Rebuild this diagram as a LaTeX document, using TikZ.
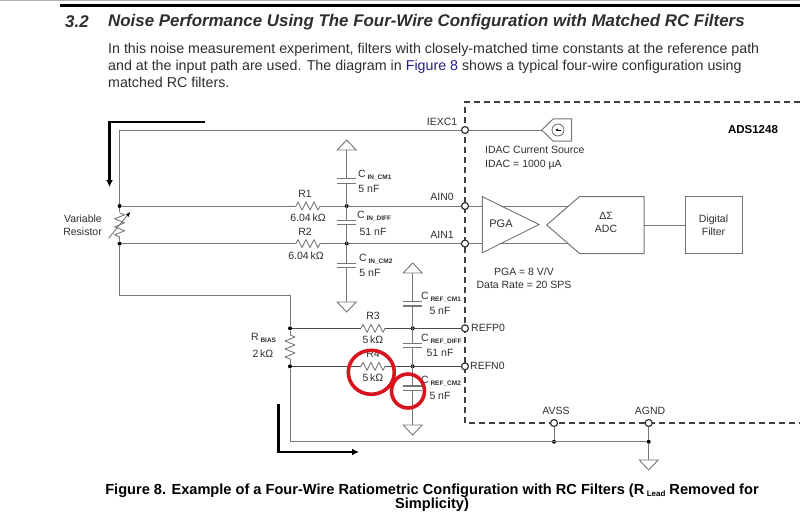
\documentclass[tikz,border=0pt]{standalone}
\usepackage{fontspec}
\setmainfont{Liberation Sans}
\usepackage{xcolor}
\usepackage{tikz}
\usetikzlibrary{arrows.meta}

\definecolor{wiregray}{HTML}{777777}
\definecolor{txtgray}{HTML}{2E2E2E}
\definecolor{linkblue}{HTML}{20208A}
\definecolor{markred}{HTML}{D8141E}

\newcommand{\capname}[1]{C\,\raisebox{-1.5pt}{\fontsize{6.5}{7}\selectfont\bfseries #1}}

\tikzset{
    wire/.style={draw=wiregray, line width=0.9pt},
    darkwire/.style={draw=black!70, line width=0.8pt},
    lbl/.style={inner sep=0pt, text=txtgray, font=\fontsize{10.5}{13}\selectfont},
    pin/.style={circle, draw=black!80, fill=white, line width=1.2pt, minimum size=7pt, inner sep=0pt},
    dot/.style={circle, fill=black, minimum size=4pt, inner sep=0pt},
    block/.style={draw=wiregray, line width=1pt, fill=white},
    thickarrow/.style={draw=black, line width=2.4pt, -{Latex[length=7pt,width=7pt]}},
    redmark/.style={draw=markred, line width=3.6pt},
    gnddown/.pic={\draw[wire, fill=white] (-9.5,0) -- (9.5,0) -- (0,10) -- cycle;},
    gndup/.pic={\draw[wire, fill=white] (-9.5,0) -- (9.5,0) -- (0,-10) -- cycle;},
    capplates/.pic={\draw[wire, line width=1.1pt] (-9.5,-2.3) -- (9.5,-2.3) (-9.5,2.3) -- (9.5,2.3);},
    resh/.pic={\draw[wire, line join=round] (-12,0) -- (-10,-4) -- (-6,4) -- (-2,-4) -- (2,4) -- (6,-4) -- (10,4) -- (12,0);},
    resv/.pic={\draw[wire, line join=round] (0,-12) -- (5,-10) -- (-5,-6) -- (5,-2) -- (-5,2) -- (5,6) -- (-5,10) -- (0,12);},
}

\begin{document}
\begin{tikzpicture}[x=1pt, y=-1pt]
    \useasboundingbox (0,0) rectangle (800,516);

    % page text
    \draw[black!30, line width=1pt] (0,0.5) -- (800,0.5);
    \draw[black, line width=2.2pt] (60,5.5) -- (800,5.5);
    \node[lbl, anchor=west, font=\fontsize{16.9}{19}\selectfont\bfseries\itshape] (secnum) at (65,22) {3.2};
    \node[lbl, anchor=west, font=\fontsize{16.9}{19}\selectfont\bfseries\itshape] (sectitle) at (108,22) {Noise Performance Using The Four-Wire Configuration with Matched RC Filters};
    \node[lbl, anchor=north west, align=left, font=\fontsize{14.25}{17}\selectfont] (para) at (108,42.5) {In this noise measurement experiment, filters with closely-matched time constants at the reference path\\ and at the input path are used. The diagram in \textcolor{linkblue}{Figure 8} shows a typical four-wire configuration using\\ matched RC filters.};
    \node[lbl, anchor=north, align=center, text=black, font=\fontsize{14.6}{14}\selectfont\bfseries] (figcaption) at (432,483.5) {Figure 8. Example of a Four-Wire Ratiometric Configuration with RC Filters (R\,\raisebox{-2pt}{\fontsize{8}{8}\selectfont Lead} Removed for\\ Simplicity)};

    % named points of the circuit
    \coordinate (topleft) at (119.6,130);
    \coordinate (vrtop) at (119.6,212);
    \coordinate (vrbot) at (119.6,237);
    \coordinate (lowleft) at (119.6,295);
    \coordinate (rbcorner) at (290,295);
    \coordinate (botcorner) at (290,441.7);
    \coordinate (r1l) at (296,206);
    \coordinate (r1r) at (320,206);
    \coordinate (r2l) at (296,243.6);
    \coordinate (r2r) at (320,243.6);
    \coordinate (r3l) at (361,328.3);
    \coordinate (r3r) at (385,328.3);
    \coordinate (r4l) at (361,366.3);
    \coordinate (r4r) at (385,366.3);
    \coordinate (rbtop) at (290,335);
    \coordinate (rbbot) at (290,359);
    \coordinate (gndina) at (346.7,150);
    \coordinate (gndinb) at (346.7,302);
    \coordinate (gndrefa) at (412.7,273);
    \coordinate (gndrefb) at (412.7,425);
    \coordinate (gndmain) at (648.7,460);

    % dashed device outline
    \draw[black!75, line width=1.4pt, dash pattern=on 6pt off 4pt] (800,102) -- (465,102) -- (465,423) -- (800,423);

    \node[dot] (vra) at (119.6,206) {};
    \node[dot] (vrb) at (119.6,243.6) {};
    \node[dot] (ina) at (346.7,206) {};
    \node[dot] (inb) at (346.7,243.6) {};
    \node[dot] (rba) at (290,328.3) {};
    \node[dot] (rbb) at (290,366.3) {};
    \node[dot] (refa) at (412.7,328.3) {};
    \node[dot] (refb) at (412.7,366.3) {};
    \node[dot] (avssdot) at (554,441.7) {};
    \node[dot] (agnddot) at (648.7,441.7) {};

    \node[pin] (iexc) at (465,130) {};
    \node[pin] (ainz) at (465,206) {};
    \node[pin] (aino) at (465,243.6) {};
    \node[pin] (refpz) at (465,328.3) {};
    \node[pin] (refnz) at (465,366.3) {};
    \node[pin] (avss) at (554,423) {};
    \node[pin] (agnd) at (648.7,423) {};

    % wires
    \draw[wire] (iexc) -- (topleft) -- (vra);
    \draw[wire] (vra) -- (vrtop);
    \draw[wire] (vrbot) -- (vrb);
    \draw[wire] (vrb) -- (lowleft) -- (rbcorner) -- (rba);
    \draw[wire] (vra) -- (r1l);
    \draw[wire] (r1r) -- (ina);
    \draw[wire] (vrb) -- (r2l);
    \draw[wire] (r2r) -- (inb);
    \draw[wire] (ina) -- (ainz);
    \draw[wire] (inb) -- (aino);
    \draw[wire] (gndina) -- (gndinb);
    \draw[wire] (gndrefa) -- (gndrefb);
    \draw[darkwire] (rba) -- (r3l);
    \draw[darkwire] (r3r) -- (refpz);
    \draw[darkwire] (rbb) -- (r4l);
    \draw[darkwire] (r4r) -- (refnz);
    \draw[wire] (rba) -- (rbtop);
    \draw[wire] (rbbot) -- (rbb) -- (botcorner) -- (agnddot);
    \draw[wire] (avss) -- (avssdot);
    \draw[wire] (agnd) -- (agnddot) -- (gndmain);

    % resistors
    \pic at (308,206) {resh};
    \pic at (308,243.6) {resh};
    \pic at (373,328.3) {resh};
    \pic at (373,366.3) {resh};
    \pic at (290,347) {resv};
    \pic at (119.6,224.8) {resv};
    \node[inner sep=0pt] (vrtail) at (108,239) {};
    \node[inner sep=0pt] (vrtip) at (131,211) {};
    \draw[wire, -{Latex[length=5pt,width=4pt,black]}] (vrtail) -- (vrtip);

    % capacitors
    \foreach \cy in {181, 222.5, 265.5} {
        \fill[white] (336,\cy-2) rectangle (358,\cy+2);
        \pic at (346.7,\cy) {capplates};
    }
    \foreach \cy in {303.7, 345.5, 388.3} {
        \fill[white] (402,\cy-2) rectangle (424,\cy+2);
        \pic at (412.7,\cy) {capplates};
    }

    % grounds
    \pic at (346.7,150) {gndup};
    \pic at (346.7,302) {gnddown};
    \pic at (412.7,273) {gndup};
    \pic at (412.7,425) {gnddown};
    \pic at (648.7,460) {gnddown};

    % current source
    \draw[wire] (iexc) -- (541.7,130);
    \draw[block] (541.7,130) -- (553,119) -- (571.7,119) -- (571.7,141) -- (553,141) -- cycle;
    \node[circle, draw=wiregray, line width=0.9pt, minimum size=12pt, inner sep=0pt] (idac) at (558,130) {};
    \draw[black, line width=0.7pt, -{Latex[length=3pt,width=3pt]}] (idac.center)+(3,0) -- +(-3,0);

    % signal path
    \node[coordinate] (adcin) at (572,206) {};
    \node[coordinate] (adcinb) at (572,243.6) {};
    \draw[wire] (ainz) -- (adcin);
    \draw[wire] (aino) -- (adcinb);
    \draw[block, fill=none] (482.3,196.7) -- (539,224.5) -- (482.3,252.7) -- cycle;
    \fill[white] (483,198) -- (537,224.5) -- (483,251.5) -- cycle;
    \draw[block] (546.7,225) -- (579.5,196.5) -- (644,196.5) -- (644,253.5) -- (579.5,253.5) -- cycle;
    \node[draw=wiregray, line width=1pt, minimum width=57pt, minimum height=57pt, inner sep=0pt] (digfilter) at (713.5,225) {};
    \draw[wire] (644,225) -- (digfilter.west);

    % labels
    \node[lbl, anchor=east, align=right] (vrlbl) at (102,225.5) {Variable\\ Resistor};
    \node[lbl] (r1lbl) at (305,194) {R1};
    \node[lbl] (r1val) at (308,218) {6.04\,kΩ};
    \node[lbl] (r2lbl) at (305,232) {R2};
    \node[lbl] (r2val) at (306,256) {6.04\,kΩ};
    \node[lbl] (r3lbl) at (373,316) {R3};
    \node[lbl] (r3val) at (373,340) {5\,kΩ};
    \node[lbl] (r4lbl) at (373,354) {R4};
    \node[lbl] (r4val) at (373,378) {5\,kΩ};
    \node[lbl, anchor=west] (rblbl) at (251,338) {R\,\raisebox{-1.5pt}{\fontsize{6.5}{7}\selectfont\bfseries BIAS}};
    \node[lbl] (rbval) at (263,354) {2\,kΩ};

    \node[lbl, anchor=west] (cmalbl) at (358,175) {\capname{IN\_CM1}};
    \node[lbl] (cmaval) at (369,189) {5 nF};
    \node[lbl, anchor=west] (cdlbl) at (357,216) {\capname{IN\_DIFF}};
    \node[lbl] (cdval) at (373,232) {51 nF};
    \node[lbl, anchor=west] (cmblbl) at (359,259) {\capname{IN\_CM2}};
    \node[lbl] (cmbval) at (370,273) {5 nF};
    \node[lbl, anchor=west] (rmalbl) at (421,297) {\capname{REF\_CM1}};
    \node[lbl] (rmaval) at (440,311) {5 nF};
    \node[lbl, anchor=west] (rdlbl) at (421,339) {\capname{REF\_DIFF}};
    \node[lbl] (rdval) at (440,353) {51 nF};
    \node[lbl, anchor=west] (rmblbl) at (421,381) {\capname{REF\_CM2}};
    \node[lbl] (rmbval) at (440,396) {5 nF};

    \node[lbl] (iexclbl) at (442,122) {IEXC1};
    \node[lbl] (ainzlbl) at (442,197) {AIN0};
    \node[lbl] (ainolbl) at (442,235) {AIN1};
    \node[lbl, anchor=west] (refplbl) at (471,328.3) {REFP0};
    \node[lbl, anchor=west] (refnlbl) at (470,366.3) {REFN0};
    \node[lbl] (avsslbl) at (556,411) {AVSS};
    \node[lbl] (agndlbl) at (650,411) {AGND};
    \node[lbl, anchor=west] (idaclbl) at (485,150) {IDAC Current Source};
    \node[lbl, anchor=west] (idacval) at (485,165) {IDAC = 1000 µA};
    \node[lbl, font=\fontsize{11}{13}\selectfont] (pgalbl) at (501,224) {PGA};
    \node[lbl, align=center] (adclbl) at (606,222.5) {ΔΣ\\ ADC};
    \node[lbl, align=center] (filterlbl) at (digfilter) {Digital\\ Filter};
    \node[lbl, align=center] (pgaval) at (524,278.5) {PGA = 8 V/V\\ Data Rate = 20 SPS};
    \node[lbl, text=black, font=\fontsize{11.5}{13}\selectfont\bfseries] (devname) at (753,130) {ADS1248};

    % current arrows and hand drawn marks
    \coordinate (arrowa) at (205,122.3);
    \coordinate (arrowab) at (109.5,122.3);
    \coordinate (arrowac) at (109.5,187);
    \draw[thickarrow] (arrowa) -- (arrowab) -- (arrowac);
    \coordinate (arrowb) at (278.5,404);
    \coordinate (arrowbb) at (278.5,452);
    \coordinate (arrowbc) at (359,452);
    \draw[thickarrow] (arrowb) -- (arrowbb) -- (arrowbc);
    \draw[redmark] (371.3,372.3) ellipse (23 and 22);
    \draw[redmark] (408,391) ellipse (16.5 and 17);
\end{tikzpicture}
\end{document}
